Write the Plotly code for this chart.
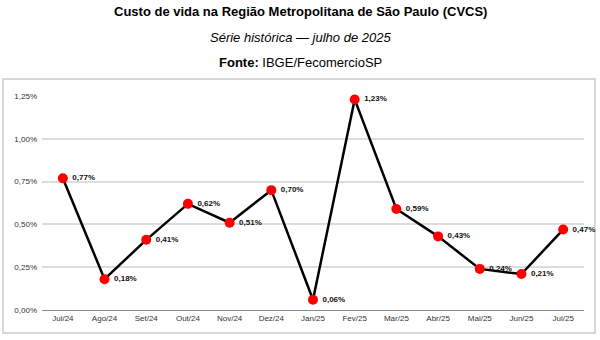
import plotly.graph_objects as go

months = ["Jul/24", "Ago/24", "Set/24", "Out/24", "Nov/24", "Dez/24", "Jan/25",
          "Fev/25", "Mar/25", "Abr/25", "Mai/25", "Jun/25", "Jul/25"]
values = [0.77, 0.18, 0.41, 0.62, 0.51, 0.70, 0.06, 1.23, 0.59, 0.43, 0.24, 0.21, 0.47]
labels = [f"{v:.2f}%".replace(".", ",") for v in values]
ytick_vals = [0, 0.25, 0.5, 0.75, 1.0, 1.25]
ytick_text = ["0,00%", "0,25%", "0,50%", "0,75%", "1,00%", "1,25%"]

FONT = "Liberation Sans, Arial, sans-serif"
L, R, T, B = 42, 16, 96, 30
W, H = 600, 340
pw, ph = W - L - R, H - T - B

def px(x):
    return (x - L) / pw

def py(y):
    return (H - B - y) / ph

fig = go.Figure()
fig.add_trace(go.Scatter(
    x=months, y=values, mode="lines+markers+text",
    line=dict(color="black", width=2.5),
    marker=dict(color="#ff0000", size=10),
    text=[" " + t for t in labels], textposition="middle right",
    textfont=dict(family=FONT, size=8, color="#111", weight="bold"),
    cliponaxis=False, hoverinfo="skip",
))

fig.update_layout(
    width=W, height=H, margin=dict(l=L, r=R, t=T, b=B),
    paper_bgcolor="white", plot_bgcolor="white", showlegend=False,
    font=dict(family=FONT),
    xaxis=dict(range=[-0.5, len(months) - 0.5], showgrid=False, showline=True,
               linecolor="#888", linewidth=1,
               ticks="", tickfont=dict(size=8, color="#333"), fixedrange=True),
    yaxis=dict(range=[0, 1.25], tickvals=ytick_vals, ticktext=ytick_text,
               showgrid=True, gridcolor="#dddddd", gridwidth=1.5, zeroline=False,
               ticks="", tickfont=dict(size=8, color="#333"), ticklabelstandoff=4),
    shapes=[
        dict(type="rect", xref="paper", yref="paper",
             x0=px(3), x1=px(595), y0=py(333), y1=py(79),
             line=dict(color="#cccccc", width=1.5), layer="below"),
    ],
    annotations=[
        dict(text="<b>Custo de vida na Região Metropolitana de São Paulo (CVCS)</b>",
             xref="paper", yref="paper", x=px(300), y=py(12), showarrow=False,
             font=dict(size=13, color="black"), xanchor="center", yanchor="middle"),
        dict(text="<i>Série histórica — julho de 2025</i>",
             xref="paper", yref="paper", x=px(300), y=py(37), showarrow=False,
             font=dict(size=13, color="black"), xanchor="center", yanchor="middle"),
        dict(text="<b>Fonte:</b> IBGE/FecomercioSP",
             xref="paper", yref="paper", x=px(300), y=py(62), showarrow=False,
             font=dict(size=13, color="black"), xanchor="center", yanchor="middle"),
    ],
)

fig.write_html("out.html")
